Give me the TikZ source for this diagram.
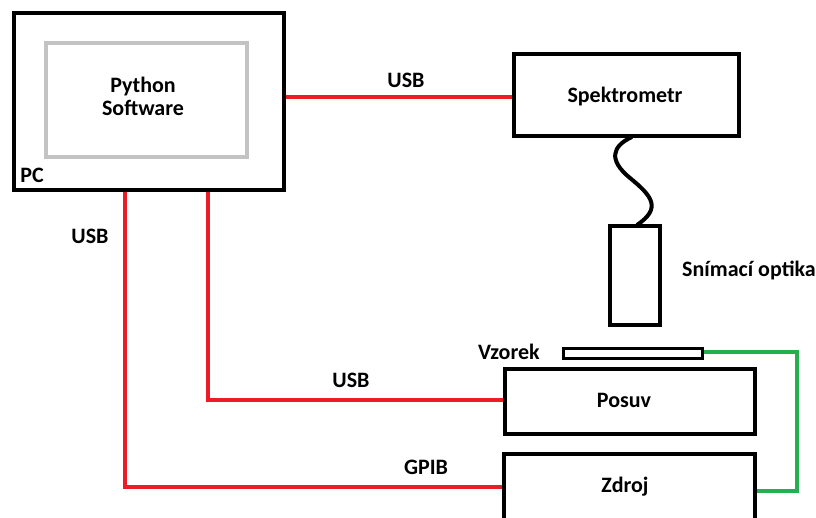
\documentclass[tikz,border=0pt]{standalone}
\usepackage{fontspec}
\setmainfont{Carlito}
\definecolor{pred}{HTML}{ED1C24}
\definecolor{pgreen}{HTML}{22B14C}
\definecolor{pgray}{HTML}{C3C3C3}
\begin{document}
\begin{tikzpicture}[x=1pt,y=-1pt,
  box/.style={draw=black,line width=4pt,rectangle,inner sep=0pt,fill=none},
  lbl/.style={font=\fontsize{22}{26}\selectfont\bfseries,inner sep=0pt,align=center},
  wire/.style={draw=pred,line width=3.5pt},
  gwire/.style={draw=pgreen,line width=3.5pt}]
\useasboundingbox[fill=white] (0,0) rectangle (816,517);
\clip (0,0) rectangle (816,517);
% boxes
\node[box,minimum width=270pt,minimum height=177pt] (PC) at (149,101.5) {};
\node[box,draw=pgray,minimum width=201pt,minimum height=114pt] (SW) at (146.5,100) {};
\node[box,minimum width=225pt,minimum height=82pt] (Spek) at (626.5,95) {};
\node[box,minimum width=50pt,minimum height=99pt] (Opt) at (635,275.5) {};
\node[box,line width=3pt,minimum width=139pt,minimum height=10pt] (Vz) at (633,353.5) {};
\node[box,minimum width=250pt,minimum height=65pt] (Posuv) at (630,401.5) {};
\node[box,minimum width=251pt,minimum height=90pt] (Zdroj) at (629.5,499) {};
% texts
\node[lbl] (tSW) at (143,96.5) {Python\\[-3pt]Software};
\node[lbl] (tPC) at (32,175) {PC};
\node[lbl] (tSpek) at (625,97) {Spektrometr};
\node[lbl] (tOpt) at (749,270) {Snímací optika};
\node[lbl] (tVz) at (509,352) {Vzorek};
\node[lbl] (tPosuv) at (624,400) {Posuv};
\node[lbl] (tZdroj) at (625,487) {Zdroj};
\node[lbl] (u1) at (406,80) {USB};
\node[lbl] (u2) at (90,236) {USB};
\node[lbl] (u3) at (351,380) {USB};
\node[lbl] (g1) at (426,467) {GPIB};
% connector endpoints
\coordinate (a1) at (286,97);
\coordinate (a2) at (512,97);
\coordinate (b1) at (125,192);
\coordinate (b2) at (502,487);
\coordinate (c1) at (208,192);
\coordinate (c2) at (503,400);
\coordinate (d1) at (704,352);
\coordinate (d2) at (797,352);
\coordinate (d3) at (757,491);
\coordinate (e1) at (632,137);
\coordinate (e2) at (637,225);
% wires
\draw[wire] (a1) -- (a2);
\draw[wire] (b1) |- (b2);
\draw[wire] (c1) |- (c2);
\draw[gwire] (d1) -- (d2) |- (d3);
\draw[line width=4pt] (e1) .. controls (612,146) and (608,160) .. (630,178)
  .. controls (652,196) and (662,208) .. (e2);
\end{tikzpicture}
\end{document}
